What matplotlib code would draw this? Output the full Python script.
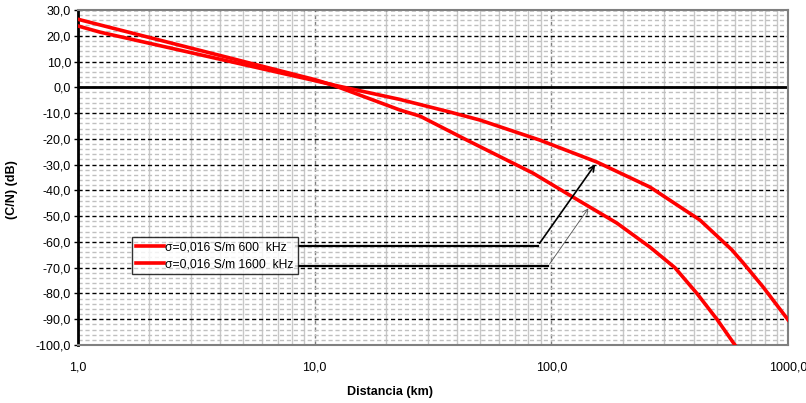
import matplotlib.pyplot as plt
from matplotlib.ticker import FixedLocator, LogLocator, MultipleLocator, NullFormatter
import numpy as np

plt.rcParams['font.family'] = ['Liberation Sans', 'DejaVu Sans']

# sigma=0,016 S/m 600 kHz
dist_600 = [1, 1.24, 10, 12, 22.9, 37.3, 49.9, 89.5, 155.8, 260.9, 424.5, 579.4, 644.7, 783.4, 1000]
cn_600 = [23.8, 21.4, 2.6, 0.9, -4.7, -9.6, -12.7, -20.5, -29.0, -38.7, -51.5, -63.1, -68.0, -77.4, -90.2]

# sigma=0,016 S/m 1600 kHz
dist_1600 = [1, 1.24, 10, 12, 22.9, 27.9, 44.0, 83.6, 123.4, 189.3, 260.9, 332.8, 412.3, 500.8, 596.6]
cn_1600 = [26.4, 24.2, 3.0, 0.8, -8.8, -11.2, -20.5, -33.3, -42.6, -52.7, -62.0, -70.0, -80.0, -90.0, -100.0]

labels = ['σ=0,016 S/m 600  kHz', 'σ=0,016 S/m 1600  kHz']
x_ticks = [1, 10, 100, 1000]
x_labels = ['1,0', '10,0', '100,0', '1000,0']
y_ticks = np.arange(-100, 31, 10)

fig = plt.figure(figsize=(8.06, 4.03), dpi=100)
ax = fig.add_axes([78 / 806, 1 - 345 / 403, 710 / 806, 335 / 403])

ax.set_xscale('log')
ax.set_xlim(1, 1000)
ax.set_ylim(-100, 30)

# grid
ax.xaxis.set_minor_locator(LogLocator(base=10, subs=np.arange(2, 10)))
ax.xaxis.set_minor_formatter(NullFormatter())
ax.yaxis.set_minor_locator(MultipleLocator(2))
ax.grid(which='minor', axis='y', color='#c0c0c0', linestyle=(0, (3, 2)), linewidth=1)
ax.grid(which='minor', axis='x', color='#c8c8c8', linestyle='-', linewidth=1)
ax.grid(which='major', axis='x', color='#808080', linestyle=(0, (3, 2)), linewidth=1)
ax.grid(which='major', axis='y', color='black', linestyle=(0, (3, 2)), linewidth=1)
ax.set_axisbelow(True)
ax.axhline(0, color='black', linewidth=2, zorder=2)

l1, = ax.plot(dist_600, cn_600, color='red', linewidth=2.6, zorder=3)
l2, = ax.plot(dist_1600, cn_1600, color='red', linewidth=2.6, zorder=3)

ax.xaxis.set_major_locator(FixedLocator(x_ticks))
ax.set_xticklabels(x_labels)
ax.set_yticks(y_ticks)
ax.set_yticklabels([f'{v:.1f}'.replace('.', ',') for v in y_ticks])
ax.tick_params(axis='x', which='both', length=0, labelsize=9, pad=12)
ax.tick_params(axis='y', which='major', length=3, width=1, labelsize=9, pad=2)
ax.tick_params(axis='y', which='minor', length=0)

for s in ['top', 'right', 'bottom']:
    ax.spines[s].set_color('#808080')
    ax.spines[s].set_linewidth(1.5)
ax.spines['left'].set_color('black')
ax.spines['left'].set_linewidth(2)

# leader lines from legend to curves
ax.plot([8.3, 87.8], [-61.4, -61.4], color='black', linewidth=1.6, zorder=4)
ax.annotate('', xy=(155.8, -29), xytext=(87.8, -61.4),
            arrowprops=dict(arrowstyle='->', color='black', lw=1.2), zorder=4)
ax.plot([8.3, 96.7], [-69.5, -69.5], color='black', linewidth=1.6, zorder=4)
ax.annotate('', xy=(145.6, -46.1), xytext=(96.7, -69.5),
            arrowprops=dict(arrowstyle='->', color='#555555', lw=0.6), zorder=4)

leg = ax.legend([l1, l2], labels, loc='upper left', bbox_to_anchor=(54 / 710, 1 - 227 / 335),
                fontsize=8.7, frameon=True, fancybox=False, edgecolor='black',
                handlelength=2.3, handletextpad=0.1, borderpad=0.35, labelspacing=0.4,
                borderaxespad=0)
leg.get_frame().set_linewidth(1)
leg.get_frame().set_facecolor('white')
leg.set_zorder(5)

fig.text(12 / 806, 1 - 190 / 403, '(C/N) (dB)', rotation=90, fontsize=9, fontweight='bold',
         ha='center', va='center')
fig.text(390 / 806, 1 - 392 / 403, 'Distancia (km)', fontsize=9, fontweight='bold',
         ha='center', va='center')

fig.savefig('out.png', dpi=100)
